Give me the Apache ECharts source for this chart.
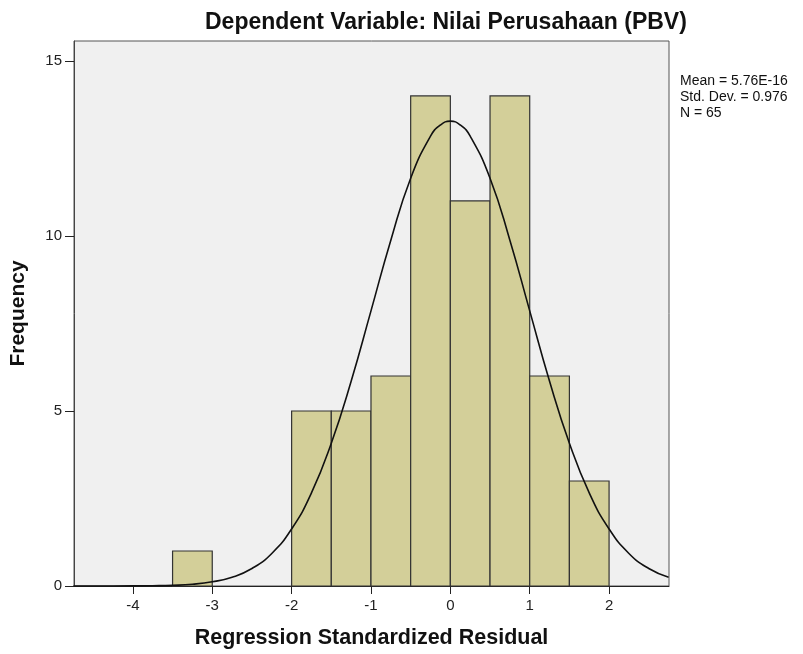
<!DOCTYPE html>
<html>
<head>
<meta charset="utf-8">
<script src="https://cdn.jsdelivr.net/npm/echarts@6/dist/echarts.min.js"></script>
<style>
html,body{margin:0;padding:0;background:#fff;}
#main{width:803px;height:654px;}
</style>
</head>
<body>
<div id="main"></div>
<script>
/* histogram bins (Regression Standardized Residual) */
var binStart = [-3.5, -2.0, -1.5, -1.0, -0.5, 0.0, 0.5, 1.0, 1.5];
var binEnd   = [-3.0, -1.5, -1.0, -0.5,  0.0, 0.5, 1.0, 1.5, 2.0];
var binCount = [1, 5, 5, 6, 14, 11, 14, 6, 3];

/* normal curve */
var curveX = [-4.75, -4.5, -4.0, -3.75, -3.5, -3.25, -3.0, -2.75, -2.5, -2.25, -2.0, -1.75, -1.5, -1.25, -1.0, -0.75, -0.5, -0.25, -0.125, 0,
              0.125, 0.25, 0.5, 0.75, 1.0, 1.25, 1.5, 1.75, 2.0, 2.25, 2.5, 2.75];
var curveY = [0.0, 0.0, 0.003, 0.008, 0.02, 0.05, 0.12, 0.25, 0.5, 0.93, 1.63, 2.66, 4.08, 5.85, 7.86, 9.88, 11.65, 12.85, 13.17, 13.28,
              13.17, 12.85, 11.65, 9.88, 7.86, 5.85, 4.08, 2.66, 1.63, 0.93, 0.5, 0.25];

var xTicks = [-4, -3, -2, -1, 0, 1, 2];
var yTicks = [0, 5, 10, 15];
var statsText = ["Mean = 5.76E-16", "Std. Dev. = 0.976", "N = 65"];

var fnt = "Liberation Sans";

var barData = [];
for (var i = 0; i < binCount.length; i++) {
    barData.push([binStart[i], binEnd[i], binCount[i]]);
}
var lineData = [];
for (var j = 0; j < curveX.length; j++) {
    lineData.push([curveX[j], curveY[j]]);
}

var myChart = echarts.init(document.getElementById("main"));
myChart.setOption({
    animation: false,
    backgroundColor: "#fff",
    title: {
        text: "Dependent Variable: Nilai Perusahaan (PBV)",
        left: 200, top: 6,
        textStyle: {fontFamily: fnt, fontSize: 23, fontWeight: "bold", color: "#111"}
    },
    graphic: [{
        type: "text", left: 680, top: 73,
        style: {text: statsText.join("\n"), font: "14px " + fnt, fill: "#111", lineHeight: 16}
    }],
    grid: {
        left: 73, top: 41, right: 134, bottom: 67,
        show: true, backgroundColor: "#f0f0f0", borderColor: "#555", borderWidth: 1
    },
    xAxis: {
        type: "value", min: -4.742, max: 2.755,
        name: "Regression Standardized Residual", nameLocation: "middle", nameGap: 41,
        nameTextStyle: {fontFamily: fnt, fontSize: 21.5, fontWeight: "bold", color: "#111"},
        splitLine: {show: false},
        axisLine: {onZero: false, lineStyle: {color: "#222", width: 1}},
        axisTick: {show: true, length: 8, customValues: xTicks, lineStyle: {color: "#222"}},
        axisLabel: {customValues: xTicks, margin: 12, fontFamily: fnt, fontSize: 15, color: "#222"}
    },
    yAxis: {
        type: "value", min: 0, max: 15.57,
        name: "Frequency", nameLocation: "middle", nameGap: 45, nameRotate: 90,
        nameTextStyle: {fontFamily: fnt, fontSize: 21, fontWeight: "bold", color: "#111"},
        splitLine: {show: false},
        axisLine: {show: true, onZero: false, lineStyle: {color: "#444", width: 1}},
        axisTick: {show: true, length: 9, customValues: yTicks, lineStyle: {color: "#222"}},
        axisLabel: {customValues: yTicks, margin: 12, fontFamily: fnt, fontSize: 15, color: "#222"}
    },
    series: [{
        type: "custom",
        data: barData,
        encode: {x: [0, 1], y: 2},
        renderItem: function (params, api) {
            var p0 = api.coord([api.value(0), api.value(2)]);
            var p1 = api.coord([api.value(1), 0]);
            return {
                type: "rect",
                shape: {x: p0[0], y: p0[1], width: p1[0] - p0[0], height: p1[1] - p0[1]},
                style: {fill: "#d3cf99", stroke: "#333", lineWidth: 1.2}
            };
        },
        z: 2
    }, {
        type: "line",
        data: lineData,
        smooth: true,
        showSymbol: false,
        lineStyle: {color: "#111", width: 1.6},
        z: 3
    }]
});
</script>
</body>
</html>
